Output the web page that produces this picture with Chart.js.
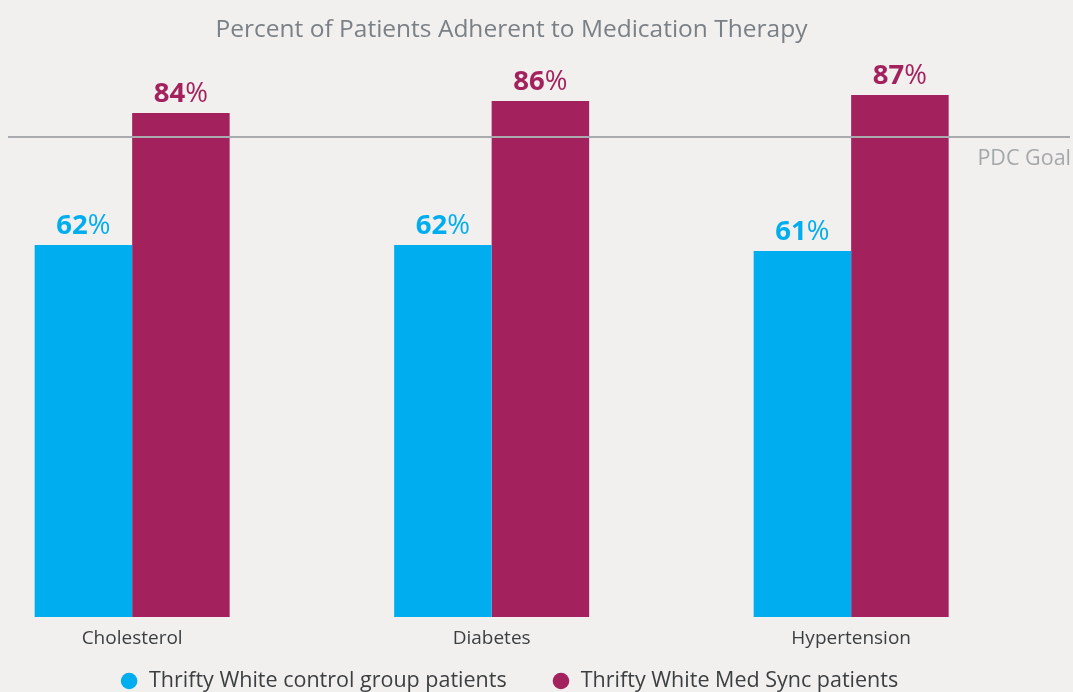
<!DOCTYPE html>
<html><head><meta charset="utf-8">
<script src="https://cdn.jsdelivr.net/npm/chart.js@4.4.0/dist/chart.umd.min.js"></script>
<style>
html,body{margin:0;padding:0;background:#f1f0ee;overflow:hidden;}
#wrap{width:1073px;height:692px;position:relative;}
</style></head><body>
<div id="wrap"><canvas id="c"></canvas></div>
<script>
const categories = ['Cholesterol', 'Diabetes', 'Hypertension'];
const controlValues = [62, 62, 61];
const medSyncValues = [84, 86, 87];
const seriesNames = ['Thrifty White control group patients', 'Thrifty White Med Sync patients'];
const goalValue = 80;
const goalLabel = 'PDC Goal';
const titleText = 'Percent of Patients Adherent to Medication Therapy';

const FONT = "'Open Sans', sans-serif";
const BLUE = '#00aeef', MAG = '#a3225d', DARK = '#3c3f42';

const toPoints = vals => vals.map((v, i) => ({x: i, y: v}));

const valueLabels = {
  id: 'valueLabels',
  afterDatasetsDraw(chart) {
    const ctx = chart.ctx;
    chart.data.datasets.forEach((ds, di) => {
      const meta = chart.getDatasetMeta(di);
      meta.data.forEach((bar, i) => {
        const num = String(ds.data[i].y);
        ctx.save();
        ctx.font = `bold 27.5px ${FONT}`; const w1 = ctx.measureText(num).width;
        ctx.font = `27.5px ${FONT}`; const w2 = ctx.measureText('%').width;
        const x0 = bar.x - (w1 + w2) / 2, y = bar.y - 11;
        ctx.fillStyle = ds.backgroundColor; ctx.textBaseline = 'alphabetic'; ctx.textAlign = 'left';
        ctx.font = `bold 27.5px ${FONT}`; ctx.fillText(num, x0, y);
        ctx.font = `27.5px ${FONT}`; ctx.fillText('%', x0 + w1, y);
        ctx.restore();
      });
    });
  }
};

const goalLine = {
  id: 'goalLine',
  afterDatasetsDraw(chart) {
    const ctx = chart.ctx;
    const y = chart.scales.y.getPixelForValue(goalValue);
    ctx.save();
    ctx.strokeStyle = '#a9abae'; ctx.lineWidth = 2;
    ctx.beginPath(); ctx.moveTo(chart.chartArea.left + 8, y); ctx.lineTo(chart.width - 3, y); ctx.stroke();
    ctx.fillStyle = '#a5a8ab'; ctx.font = `21.5px ${FONT}`; ctx.textAlign = 'right'; ctx.textBaseline = 'middle';
    ctx.fillText(goalLabel, chart.width - 2, y + 22);
    ctx.restore();
  }
};

const customLegend = {
  id: 'customLegend',
  afterDraw(chart) {
    const ctx = chart.ctx;
    ctx.save();
    ctx.font = `21.5px ${FONT}`;
    const r = 8.3, dotGap = 11.5, itemGap = 46;
    const items = chart.data.datasets.map(ds => ({text: ds.label, color: ds.backgroundColor, w: ctx.measureText(ds.label).width}));
    const total = items.reduce((s, it) => s + 2 * r + dotGap + it.w, 0) + itemGap * (items.length - 1);
    let x = (chart.chartArea.left + chart.chartArea.right) / 2 - total / 2 - 2;
    const y = chart.height - 11;
    ctx.textBaseline = 'middle'; ctx.textAlign = 'left';
    items.forEach(it => {
      ctx.fillStyle = it.color;
      ctx.beginPath(); ctx.arc(x + r, y, r, 0, Math.PI * 2); ctx.fill();
      ctx.fillStyle = DARK;
      ctx.fillText(it.text, x + 2 * r + dotGap, y);
      x += 2 * r + dotGap + it.w + itemGap;
    });
    ctx.restore();
  }
};

new Chart(document.getElementById('c'), {
  type: 'bar',
  data: {
    datasets: [
      {label: seriesNames[0], data: toPoints(controlValues), backgroundColor: BLUE, borderWidth: 0},
      {label: seriesNames[1], data: toPoints(medSyncValues), backgroundColor: MAG, borderWidth: 0}
    ]
  },
  options: {
    responsive: true,
    maintainAspectRatio: false,
    animation: false,
    layout: {padding: {left: 0, right: 50, top: 0, bottom: 42}},
    datasets: {bar: {categoryPercentage: 0.5424, barPercentage: 1}},
    scales: {
      x: {
        type: 'linear', offset: false,
        min: -0.3676, max: 2.478,
        grid: {display: false, drawTicks: false}, border: {display: false},
        afterBuildTicks: s => { s.ticks = categories.map((_, i) => ({value: i})); },
        afterFit: s => { s.height = 33; },
        ticks: {
          padding: 10, color: DARK, font: {family: FONT, size: 19},
          maxRotation: 0, autoSkip: false,
          callback: v => categories[v]
        }
      },
      y: {display: false, min: 0, max: 95}
    },
    plugins: {
      title: {
        display: true, text: titleText, color: '#7b8086',
        font: {family: FONT, size: 24.5, weight: 'normal'},
        padding: {top: 15, bottom: 2.6}
      },
      legend: {display: false},
      tooltip: {enabled: false}
    }
  },
  plugins: [goalLine, valueLabels, customLegend]
});
</script>
</body></html>
